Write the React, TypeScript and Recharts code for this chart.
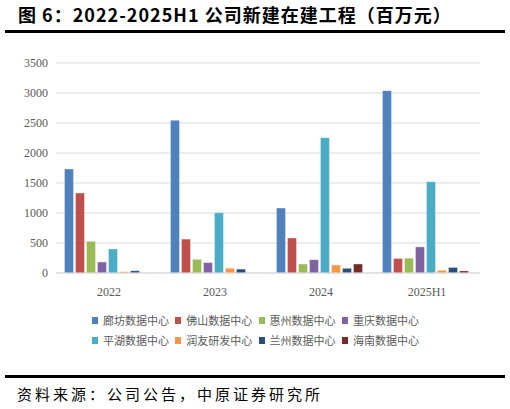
import React from 'react';
import { BarChart, Bar, XAxis, YAxis, CartesianGrid } from 'recharts';

const categories = ['2022', '2023', '2024', '2025H1'];
const seriesNames = ['廊坊数据中心', '佛山数据中心', '惠州数据中心', '重庆数据中心', '平湖数据中心', '润友研发中心', '兰州数据中心', '海南数据中心'];
const seriesColors = ['#4F81BD', '#C0504D', '#9BBB59', '#8064A2', '#4BACC6', '#F79646', '#2C4D75', '#772C2A'];
const langfang = [1733, 2544, 1083, 3039];
const foshan = [1333, 565, 583, 242];
const huizhou = [528, 228, 150, 248];
const chongqing = [183, 173, 222, 435];
const pinghu = [400, 1005, 2256, 1522];
const runyou = [22, 80, 133, 45];
const lanzhou = [38, 65, 78, 92];
const hainan = [0, 0, 150, 35];
const yTicks = [0, 500, 1000, 1500, 2000, 2500, 3000, 3500];

const seriesValues = [langfang, foshan, huizhou, chongqing, pinghu, runyou, lanzhou, hainan];

const data = categories.map((c, i) => {
  const row: Record<string, string | number> = { name: c };
  seriesNames.forEach((s, j) => {
    row[s] = seriesValues[j][i];
  });
  return row;
});

const serif = '"Liberation Serif", "Times New Roman", serif';
const cjk = '"Noto Sans CJK SC", sans-serif';

export default function App() {
  return (
    <div style={{ position: 'absolute', left: 0, top: 0, width: 510, height: 409, background: '#fff', overflow: 'hidden' }}>
      <div style={{ position: 'absolute', left: 18, top: 2, fontFamily: cjk, fontWeight: 700, fontSize: 18, color: '#000', letterSpacing: 1, whiteSpace: 'nowrap', lineHeight: '24px' }}>
        图 6：2022-2025H1 公司新建在建工程（百万元）
      </div>
      <div style={{ position: 'absolute', left: 5, top: 30, width: 500, height: 3, background: '#000' }} />
      <div style={{ position: 'absolute', left: 0, top: 0 }}>
        <BarChart
          width={510}
          height={300}
          data={data}
          margin={{ top: 63, right: 30, left: 0, bottom: 0 }}
          barCategoryGap="8%"
          barGap={2}
        >
          <CartesianGrid vertical={false} stroke="#d9d9d9" />
          <XAxis
            dataKey="name"
            height={27}
            axisLine={{ stroke: '#d9d9d9' }}
            tickLine={false}
            tickMargin={8}
            tick={{ fontFamily: serif, fontSize: 12, fill: '#595959' }}
          />
          <YAxis
            width={56}
            domain={[0, 3500]}
            ticks={yTicks}
            axisLine={false}
            tickLine={false}
            tickMargin={2}
            tickSize={6}
            tick={{ fontFamily: serif, fontSize: 12, fill: '#595959' }}
          />
          {seriesNames.map((s, j) => (
            <Bar key={s} dataKey={s} fill={seriesColors[j]} stroke="#ffffff" strokeOpacity={0.45} strokeWidth={0.8} isAnimationActive={false} />
          ))}
        </BarChart>
      </div>
      <div style={{ position: 'absolute', left: 92, top: 313, width: 340, display: 'flex', flexWrap: 'wrap', rowGap: 6 }}>
        {seriesNames.map((s, j) => (
          <div key={s} style={{ width: 83.3, height: 14, display: 'flex', alignItems: 'center', whiteSpace: 'nowrap' }}>
            <span style={{ display: 'inline-block', width: 6, height: 7, background: seriesColors[j], marginRight: 5 }} />
            <span style={{ fontFamily: cjk, fontSize: 11, color: '#595959', lineHeight: '14px' }}>{s}</span>
          </div>
        ))}
      </div>
      <div style={{ position: 'absolute', left: 5, top: 375, width: 500, height: 3, background: '#000' }} />
      <div style={{ position: 'absolute', left: 17, top: 384, fontFamily: cjk, fontSize: 15, color: '#000', letterSpacing: 3, whiteSpace: 'nowrap', lineHeight: '20px' }}>
        资料来源：公司公告，中原证券研究所
      </div>
    </div>
  );
}
